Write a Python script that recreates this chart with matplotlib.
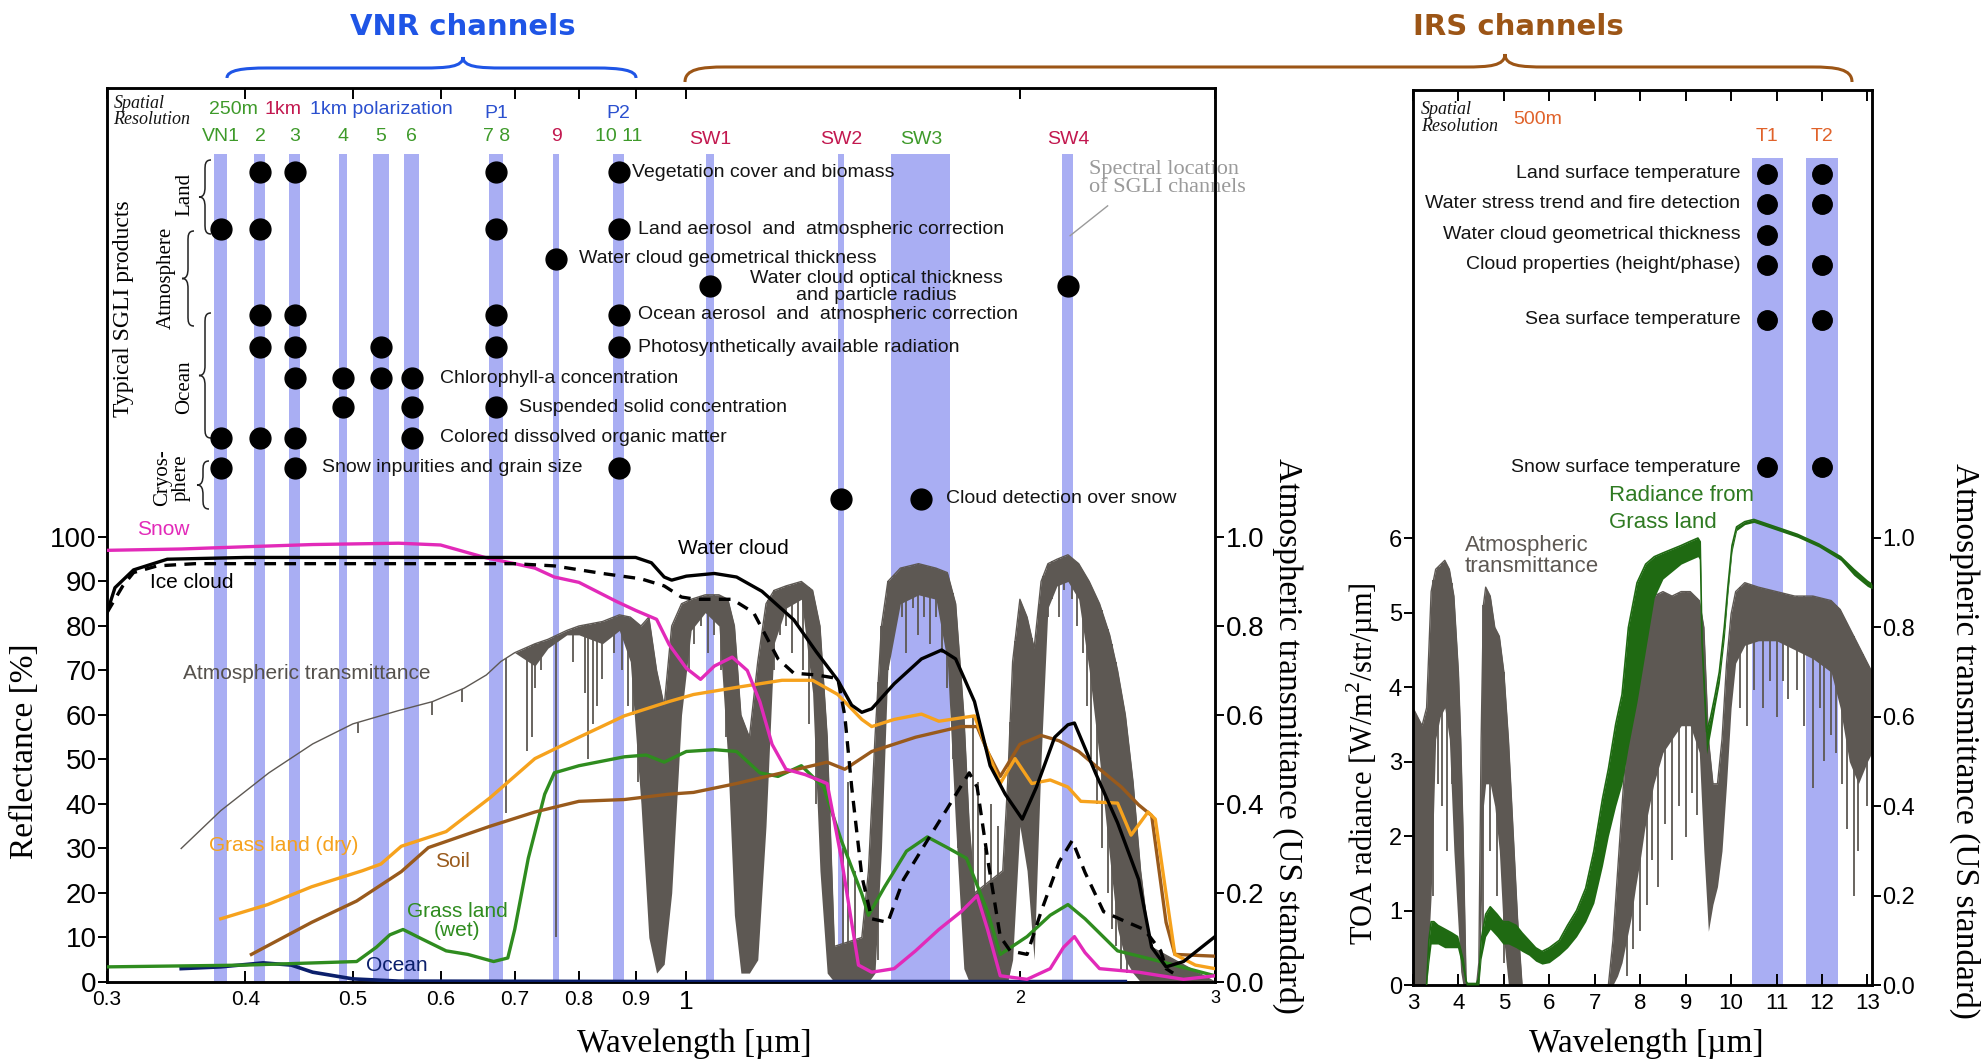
import numpy as np
import matplotlib
matplotlib.use("Agg")
import matplotlib.pyplot as plt
from matplotlib.path import Path
from matplotlib.patches import PathPatch

# ------------------------------------------------------------------ data
# VNR / SWI channels: centre wavelength [um] and drawn band width [um]
vnr_chan_names = ["VN1", "VN2", "VN3", "VN4", "VN5", "VN6", "VN8", "VN9", "VN11",
                  "SW1", "SW2", "SW3", "SW4"]
vnr_chan_center = [0.380, 0.412, 0.443, 0.490, 0.530, 0.565, 0.6735, 0.763, 0.8685,
                   1.050, 1.380, 1.630, 2.210]
vnr_chan_width = [0.010, 0.010, 0.010, 0.009, 0.018, 0.018, 0.020, 0.009, 0.020,
                  0.018, 0.018, 0.200, 0.050]

vnr_top_labels = ["VN1", "2", "3", "4", "5", "6", "7 8", "9", "10 11"]
vnr_top_label_wl = [0.380, 0.413, 0.443, 0.490, 0.530, 0.565, 0.6735, 0.763, 0.8685]
vnr_top_label_col = ["g", "g", "g", "g", "g", "g", "g", "r", "g"]
swi_labels = ["SW1", "SW2", "SW3", "SW4"]
swi_label_wl = [1.050, 1.380, 1.630, 2.210]
swi_label_col = ["r", "r", "g", "r"]
pol_labels = ["P1", "P2"]
pol_label_wl = [0.6735, 0.8685]

vnr_products = ["Vegetation cover and biomass",
                "Land aerosol  and  atmospheric correction",
                "Water cloud geometrical thickness",
                "Water cloud optical thickness\nand particle radius",
                "Ocean aerosol  and  atmospheric correction",
                "Photosynthetically available radiation",
                "Chlorophyll-a concentration",
                "Suspended solid concentration",
                "Colored dissolved organic matter",
                "Snow inpurities and grain size",
                "Cloud detection over snow"]
vnr_product_row = [181.9, 169.1, 162.5, 156.4, 149.9, 142.6, 135.7, 129.1, 122.3, 115.5, 108.6]
vnr_product_text_wl = [0.893, 0.905, 0.800, 1.485, 0.905, 0.905, 0.599, 0.706, 0.599, 0.469, 1.716]
vnr_product_channels = [["VN2", "VN3", "VN8", "VN11"],
                        ["VN1", "VN2", "VN8", "VN11"],
                        ["VN9"],
                        ["SW1", "SW4"],
                        ["VN2", "VN3", "VN8", "VN11"],
                        ["VN2", "VN3", "VN5", "VN8", "VN11"],
                        ["VN3", "VN4", "VN5", "VN6"],
                        ["VN4", "VN6", "VN8"],
                        ["VN1", "VN2", "VN3", "VN6"],
                        ["VN1", "VN3", "VN11"],
                        ["SW2", "SW3"]]

# TIR channels
irs_chan_names = ["T1", "T2"]
irs_chan_center = [10.8, 12.0]
irs_chan_width = [0.7, 0.7]
irs_products = ["Land surface temperature",
                "Water stress trend and fire detection",
                "Water cloud geometrical thickness",
                "Cloud properties (height/phase)",
                "Sea surface temperature",
                "Snow surface temperature"]
irs_product_row = [10.89, 10.49, 10.07, 9.67, 8.93, 6.95]
irs_product_channels = [["T1", "T2"], ["T1", "T2"], ["T1"], ["T1", "T2"], ["T1", "T2"], ["T1", "T2"]]

# Reflectance spectra [%]
snow_wl = [0.30, 0.35, 0.40, 0.46, 0.55, 0.60, 0.66, 0.70, 0.73, 0.76, 0.80, 0.865, 0.90, 0.94,
           0.965, 1.00, 1.03, 1.06, 1.10, 1.135, 1.165, 1.195, 1.23, 1.28, 1.34, 1.38, 1.43, 1.47,
           1.54, 1.61, 1.69, 1.77, 1.83, 1.87, 1.92, 2.03, 2.13, 2.19, 2.24, 2.29, 2.36, 2.56, 2.81, 3.0]
snow_r = [97, 97.3, 97.8, 98.3, 98.6, 98.2, 95.3, 94, 93, 91, 89.8, 85.5, 83.5, 81.5,
          75.8, 70.5, 68, 71, 73, 70, 63, 53.4, 47.8, 46.6, 44.6, 27.8, 3.8, 2.2,
          3, 7, 11.8, 15.8, 19.4, 11.8, 1.4, 0.6, 3, 7.8, 10.2, 6.6, 3, 2.2, 0.6, 1.4]

ice_wl = [0.30, 0.31, 0.317, 0.333, 0.36, 0.50, 0.70, 0.76, 0.84, 0.91, 0.955, 0.99, 1.02, 1.10,
          1.15, 1.21, 1.25, 1.31, 1.37, 1.39, 1.41, 1.44, 1.47, 1.52, 1.57, 1.65, 1.72, 1.80,
          1.83, 1.87, 1.92, 1.96, 2.03, 2.09, 2.17, 2.23, 2.29, 2.38, 2.48, 2.59, 2.68, 2.71, 2.75]
ice_r = [83, 89, 92, 93.5, 94, 94, 94, 93.5, 91.8, 90.6, 89, 86.5, 86, 86,
         83, 72.6, 69.4, 69, 68.2, 59.8, 43.8, 23.8, 14.2, 13.4, 23, 31.8, 39, 47,
         43.8, 27.8, 10.2, 7, 6.2, 15.8, 27, 31.8, 24.6, 15.8, 13.8, 11.8, 7, 3, 2]

wcloud_wl = [0.30, 0.305, 0.317, 0.34, 0.40, 0.60, 0.80, 0.90, 0.93, 0.955, 0.97, 1.00, 1.06,
             1.11, 1.17, 1.25, 1.31, 1.37, 1.41, 1.44, 1.47, 1.54, 1.63, 1.70, 1.75, 1.82, 1.88,
             1.94, 2.01, 2.07, 2.15, 2.21, 2.24, 2.34, 2.45, 2.56, 2.63, 2.71, 2.81, 3.0]
wcloud_r = [83, 88.6, 92.6, 95, 95.4, 95.4, 95.4, 95.4, 94.2, 91, 90.3, 91.2, 91.8,
            91, 87.8, 81.4, 74.2, 67.8, 62.2, 60.6, 61.4, 67, 72.6, 74.6, 72.6, 63, 48.6,
            42.2, 36.6, 43.8, 55, 57.8, 58.2, 47, 35.8, 23, 7.8, 3.4, 4.6, 10.2]

gdry_wl = [0.38, 0.419, 0.459, 0.51, 0.53, 0.553, 0.607, 0.665, 0.73, 0.80, 0.879, 0.964, 1.015,
           1.11, 1.22, 1.30, 1.37, 1.44, 1.47, 1.54, 1.63, 1.69, 1.82, 1.87, 1.92, 1.98, 2.05,
           2.13, 2.21, 2.27, 2.45, 2.52, 2.61, 2.65, 2.71, 2.76, 2.88, 3.0]
gdry_r = [14.2, 17.4, 21.4, 25.0, 26.5, 30.5, 33.8, 41.4, 50.2, 55, 59.8, 63, 64.6,
          66.2, 67.8, 67.8, 64.6, 59, 57.4, 59, 60.2, 58.6, 59.8, 51.8, 44.6, 50.2, 44.6,
          45.4, 43.8, 40.6, 40.2, 33, 38.2, 36.6, 19.8, 6.2, 3.8, 3]

soil_wl = [0.405, 0.459, 0.504, 0.553, 0.585, 0.665, 0.73, 0.80, 0.879, 0.964, 1.015, 1.11, 1.22,
           1.34, 1.39, 1.47, 1.61, 1.77, 1.83, 1.87, 1.92, 2.0, 2.09, 2.17, 2.26, 2.34, 2.47,
           2.56, 2.63, 2.71, 2.76, 3.0]
soil_r = [6.2, 13.4, 18.2, 24.8, 30.2, 35, 38.2, 40.6, 41, 42.2, 42.6, 44.6, 47,
          49.4, 47.8, 51.8, 55, 57.4, 57.4, 51.8, 46.2, 53.4, 55.4, 54.2, 51.8, 48.6, 43.8,
          39.8, 37.4, 13.4, 6.2, 5.8]

gwet_wl = [0.30, 0.40, 0.504, 0.525, 0.54, 0.555, 0.578, 0.607, 0.635, 0.67, 0.69, 0.70, 0.72,
           0.745, 0.76, 0.80, 0.879, 0.92, 0.955, 1.0, 1.06, 1.11, 1.165, 1.21, 1.27, 1.33, 1.38,
           1.44, 1.46, 1.51, 1.58, 1.65, 1.72, 1.79, 1.87, 1.92, 2.03, 2.13, 2.21, 2.29, 2.45,
           2.68, 3.0]
gwet_r = [3.4, 3.8, 4.6, 7.8, 10.6, 11.8, 9.6, 7, 6.2, 4.6, 5.4, 11.8, 27.8,
          42.2, 47, 48.6, 50.6, 51, 49.4, 51.8, 52.2, 51.8, 47, 46.2, 48.6, 43.8, 31.8,
          19.8, 15, 21.4, 29.4, 32.6, 30.2, 27.8, 15.8, 6.2, 10.2, 15, 17.4, 14.2, 7,
          4.6, 1.4]

ocean_wl = [0.35, 0.38, 0.415, 0.44, 0.46, 0.50, 0.55, 1.0, 2.49]
ocean_r = [3.0, 3.4, 4.3, 3.8, 2.2, 0.7, 0.2, 0.1, 0.1]

# Atmospheric transmittance (0-1), VNR/SWI range: upper and lower envelope
atm_wl = [0.35, 0.38, 0.42, 0.46, 0.50, 0.55, 0.59, 0.63, 0.66, 0.68, 0.70, 0.73, 0.75, 0.78,
          0.80, 0.84, 0.87, 0.89, 0.91, 0.925, 0.94, 0.955, 0.97, 0.99, 1.01, 1.04, 1.07, 1.09,
          1.105, 1.12, 1.14, 1.16, 1.18, 1.20, 1.23, 1.27, 1.30, 1.32, 1.34, 1.36, 1.44, 1.46,
          1.48, 1.50, 1.52, 1.56, 1.62, 1.68, 1.72, 1.75, 1.78, 1.80, 1.82, 1.93, 1.95, 1.97,
          2.0, 2.03, 2.06, 2.09, 2.12, 2.16, 2.21, 2.26, 2.31, 2.36, 2.41, 2.45, 2.49, 2.53,
          2.57, 2.62, 3.0]
atm_hi = [0.30, 0.385, 0.47, 0.535, 0.58, 0.61, 0.63, 0.66, 0.69, 0.72, 0.74, 0.76, 0.77, 0.79,
          0.80, 0.81, 0.825, 0.82, 0.80, 0.82, 0.70, 0.62, 0.80, 0.85, 0.86, 0.87, 0.87, 0.86,
          0.80, 0.60, 0.55, 0.72, 0.85, 0.88, 0.89, 0.90, 0.88, 0.80, 0.55, 0.08, 0.10, 0.25,
          0.55, 0.80, 0.90, 0.93, 0.94, 0.93, 0.92, 0.85, 0.60, 0.35, 0.20, 0.25, 0.45, 0.72,
          0.86, 0.82, 0.75, 0.90, 0.94, 0.95, 0.96, 0.94, 0.90, 0.85, 0.78, 0.70, 0.60, 0.45,
          0.25, 0.08, 0.0]
atm_lo = [0.30, 0.385, 0.47, 0.535, 0.58, 0.61, 0.63, 0.66, 0.69, 0.72, 0.74, 0.71, 0.75, 0.78,
          0.78, 0.76, 0.79, 0.72, 0.40, 0.10, 0.02, 0.04, 0.20, 0.60, 0.79, 0.83, 0.80, 0.50,
          0.15, 0.02, 0.02, 0.05, 0.35, 0.76, 0.84, 0.86, 0.65, 0.25, 0.02, 0.0, 0.0, 0.0,
          0.02, 0.30, 0.70, 0.85, 0.87, 0.86, 0.72, 0.35, 0.03, 0.0, 0.0, 0.0, 0.0, 0.05,
          0.35, 0.25, 0.05, 0.50, 0.84, 0.89, 0.90, 0.86, 0.70, 0.50, 0.28, 0.12, 0.05, 0.02,
          0.0, 0.0, 0.0]
# individual absorption lines (wavelength, bottom of the line)
atm_dip_wl = [0.505, 0.59, 0.628, 0.687, 0.718, 0.725, 0.73, 0.74, 0.762, 0.79, 0.81, 0.815,
              0.823, 0.83, 0.84, 0.86, 0.875, 0.885, 0.895, 0.905,
              1.005, 1.015, 1.03, 1.045, 1.06, 1.075, 1.085,
              1.17, 1.185, 1.20, 1.215, 1.23, 1.245, 1.26, 1.275, 1.29, 1.31,
              1.49, 1.50, 1.52, 1.54, 1.565, 1.58, 1.60, 1.62, 1.64, 1.66, 1.68, 1.70, 1.72,
              1.74, 1.76, 1.96, 1.98,
              2.05, 2.08, 2.10, 2.12, 2.14, 2.17, 2.19, 2.23, 2.25, 2.28, 2.30, 2.32, 2.35,
              2.37, 2.40, 2.42, 2.44, 2.47, 2.50]
atm_dip_lo = [0.56, 0.60, 0.63, 0.38, 0.52, 0.55, 0.66, 0.70, 0.10, 0.72, 0.65, 0.50,
              0.58, 0.62, 0.68, 0.74, 0.70, 0.62, 0.60, 0.45,
              0.70, 0.76, 0.80, 0.74, 0.78, 0.70, 0.55,
              0.30, 0.55, 0.70, 0.78, 0.80, 0.74, 0.80, 0.70, 0.58, 0.40,
              0.05, 0.30, 0.70, 0.80, 0.82, 0.74, 0.84, 0.78, 0.82, 0.76, 0.82, 0.74, 0.66,
              0.50, 0.30, 0.05, 0.25,
              0.15, 0.40, 0.70, 0.82, 0.86, 0.82, 0.88, 0.86, 0.80, 0.74, 0.62, 0.50, 0.40,
              0.30, 0.20, 0.12, 0.08, 0.03, 0.02]
atm_spike_wl = [1.385, 1.40, 1.42, 1.815, 1.835, 1.86, 1.885, 1.91]
atm_spike_hi = [0.30, 0.45, 0.25, 0.60, 0.45, 0.30, 0.40, 0.35]

# TIR range: transmittance envelope (0-1)
tir_wl = [3.0, 3.1, 3.2, 3.3, 3.4, 3.5, 3.6, 3.7, 3.8, 3.9, 4.0, 4.05, 4.1, 4.17, 4.2, 4.4,
          4.45, 4.5, 4.55, 4.6, 4.7, 4.8, 4.9, 5.0, 5.1, 5.2, 5.3, 5.4, 7.3, 7.4, 7.5, 7.6,
          7.7, 7.8, 7.9, 8.0, 8.1, 8.3, 8.5, 8.7, 8.9, 9.1, 9.3, 9.4, 9.5, 9.6, 9.7, 9.8,
          9.9, 10.0, 10.1, 10.3, 10.6, 11.0, 11.4, 11.8, 12.2, 12.4, 12.6, 12.8, 13.0, 13.1]
tir_hi = [0.62, 0.60, 0.58, 0.62, 0.88, 0.93, 0.94, 0.95, 0.93, 0.87, 0.70, 0.55, 0.35, 0.0,
          0.0, 0.0, 0.05, 0.55, 0.85, 0.89, 0.87, 0.80, 0.78, 0.70, 0.55, 0.35, 0.15, 0.0,
          0.0, 0.10, 0.25, 0.40, 0.55, 0.65, 0.80, 0.90, 0.88, 0.87, 0.88, 0.87, 0.88, 0.88,
          0.86, 0.80, 0.55, 0.45, 0.45, 0.55, 0.72, 0.83, 0.88, 0.90, 0.89, 0.88, 0.87, 0.87,
          0.86, 0.84, 0.80, 0.76, 0.72, 0.70]
tir_lo = [0.0, 0.0, 0.0, 0.0, 0.20, 0.55, 0.60, 0.62, 0.55, 0.30, 0.12, 0.03, 0.0, 0.0,
          0.0, 0.0, 0.0, 0.15, 0.40, 0.45, 0.45, 0.40, 0.30, 0.10, 0.0, 0.0, 0.0, 0.0,
          0.0, 0.0, 0.02, 0.05, 0.10, 0.15, 0.22, 0.28, 0.35, 0.45, 0.52, 0.55, 0.58, 0.58,
          0.52, 0.30, 0.12, 0.18, 0.22, 0.30, 0.45, 0.62, 0.72, 0.76, 0.77, 0.77, 0.75, 0.73,
          0.70, 0.62, 0.50, 0.45, 0.50, 0.52]
tir_dip_wl = [3.45, 3.55, 3.65, 3.75, 3.85, 4.55, 4.7, 4.85, 5.0,
              7.7, 7.85, 8.0, 8.15, 8.25, 8.4, 8.55, 8.7, 8.85, 9.0, 9.15, 9.25,
              10.2, 10.35, 10.5, 10.7, 10.85, 11.0, 11.15, 11.25, 11.45, 11.6, 11.8, 11.95,
              12.05, 12.2, 12.3, 12.45, 12.55, 12.7, 12.8, 12.9, 13.0]
tir_dip_lo = [0.20, 0.45, 0.40, 0.30, 0.45, 0.10, 0.30, 0.20, 0.05,
              0.02, 0.08, 0.12, 0.18, 0.28, 0.22, 0.36, 0.28, 0.40, 0.33, 0.43, 0.38,
              0.62, 0.58, 0.66, 0.62, 0.68, 0.60, 0.68, 0.64, 0.66, 0.58, 0.44, 0.62,
              0.50, 0.56, 0.52, 0.45, 0.35, 0.20, 0.30, 0.48, 0.40]

# TOA radiance from grass land [W/m2/str/um]: envelope
rad_wl = [3.3, 3.35, 3.4, 3.46, 3.55, 3.7, 3.85, 3.98, 4.1, 4.17, 4.2, 4.4, 4.45, 4.5, 4.6, 4.7,
          4.85, 4.98, 5.1, 5.27, 5.4, 5.55, 5.7, 5.84, 6.0, 6.22, 6.4, 6.6, 6.8, 6.98, 7.17, 7.3,
          7.46, 7.6, 7.74, 7.93, 8.12, 8.31, 8.5, 8.7, 8.9, 9.08, 9.27, 9.32, 9.36, 9.46, 9.55,
          9.65, 9.74, 9.85, 9.93, 10.02, 10.12, 10.3, 10.5, 10.98, 11.46, 11.93, 12.41, 12.7,
          13.0, 13.1]
rad_hi = [0.0, 0.6, 0.85, 0.85, 0.80, 0.75, 0.70, 0.65, 0.35, 0.05, 0.02, 0.02, 0.10, 0.60,
          0.95, 1.05, 0.95, 0.85, 0.85, 0.80, 0.70, 0.60, 0.50, 0.45, 0.50, 0.60, 0.80, 1.00,
          1.30, 1.80, 2.50, 2.90, 3.50, 3.90, 4.80, 5.40, 5.65, 5.75, 5.80, 5.85, 5.90, 5.95,
          6.00, 5.95, 4.6, 3.4, 3.6, 3.9, 4.2, 4.8, 5.35, 5.9, 6.15, 6.22, 6.25, 6.15, 6.05,
          5.92, 5.75, 5.58, 5.42, 5.38]
rad_lo = [0.0, 0.3, 0.55, 0.55, 0.55, 0.5, 0.5, 0.5, 0.2, 0.0, 0.0, 0.0, 0.0, 0.35,
          0.65, 0.75, 0.65, 0.55, 0.55, 0.50, 0.45, 0.40, 0.32, 0.28, 0.30, 0.40, 0.50, 0.65,
          0.85, 1.10, 1.60, 2.00, 2.40, 2.70, 3.20, 3.80, 4.50, 5.20, 5.45, 5.55, 5.65, 5.70,
          5.75, 5.70, 4.5, 3.1, 3.4, 3.75, 4.05, 4.65, 5.25, 5.82, 6.10, 6.18, 6.21, 6.11, 6.01,
          5.88, 5.70, 5.50, 5.35, 5.32]

vis_xticks = [0.3, 0.4, 0.5, 0.6, 0.7, 0.8, 0.9, 1, 2, 3]
vis_xticklabels = ["0.3", "0.4", "0.5", "0.6", "0.7", "0.8", "0.9", "1", "2", "3"]
tir_xticks = [3, 4, 5, 6, 7, 8, 9, 10, 11, 12, 13]

# ------------------------------------------------------------------ style
W, H = 1982, 1061
SANS = ["Liberation Sans", "DejaVu Sans"]
SERIF = ["Liberation Serif", "DejaVu Serif"]
plt.rcParams["font.family"] = SANS
plt.rcParams["mathtext.fontset"] = "custom"
plt.rcParams["mathtext.rm"] = "Liberation Serif"

BAND = "#a9aef3"
GREEN_LBL = "#3e9a2a"
RED_LBL = "#c2184f"
BLUE_LBL = "#2b50cf"
ORANGE_LBL = "#e0622a"
ATM = "#5d5853"
TXT = "#141414"
col_map = {"g": GREEN_LBL, "r": RED_LBL}

fig = plt.figure(figsize=(W / 100, H / 100), dpi=100)
fig.patch.set_facecolor("white")


def fx(x):
    return x / W


def fy(y):
    return 1 - y / H


# ------------------------------------------------------------------ left panel
axL2 = fig.add_axes([fx(107), fy(982), (1215 - 107) / W, (982 - 87.5) / H])
axL = axL2.twinx()
axL.yaxis.tick_left()
axL2.yaxis.tick_right()
axL.set_zorder(axL2.get_zorder() + 1)
axL.patch.set_visible(False)

axL2.set_xscale("log")
axL2.set_xlim(0.3, 3)
axL2.set_ylim(0, 2.01)
axL.set_ylim(0, 201)

# channel bands
for c, w in zip(vnr_chan_center, vnr_chan_width):
    axL2.axvspan(c - w / 2, c + w / 2, ymin=0, ymax=186 / 201, color=BAND, lw=0, zorder=1)

# atmospheric transmittance
axL2.fill_between(atm_wl, atm_lo, atm_hi, color=ATM, lw=0, zorder=2)
axL2.plot(atm_wl, atm_hi, color=ATM, lw=1.0, zorder=2)
dip_top = np.interp(atm_dip_wl, atm_wl, atm_hi)
axL2.vlines(atm_dip_wl, atm_dip_lo, dip_top, color=ATM, lw=1.3, zorder=2)
axL2.vlines(atm_spike_wl, 0, atm_spike_hi, color=ATM, lw=1.3, zorder=2)

# reflectance curves
axL.plot(ocean_wl, ocean_r, color="#0b1f6b", lw=2.6, zorder=3)
axL.plot(gwet_wl, gwet_r, color="#2f8c1f", lw=2.4, zorder=3)
axL.plot(soil_wl, soil_r, color="#995a1c", lw=2.4, zorder=3)
axL.plot(gdry_wl, gdry_r, color="#f6a21d", lw=2.4, zorder=3)
axL.plot(snow_wl, snow_r, color="#e22ab9", lw=2.4, zorder=3)
axL.plot(ice_wl, ice_r, color="black", lw=2.4, ls=(0, (3.5, 2.5)), zorder=3)
axL.plot(wcloud_wl, wcloud_r, color="black", lw=2.4, zorder=3)

# curve labels
lab_kw = dict(fontsize=15, va="center", zorder=4)
axL.text(0.319, 101.7, "Snow", color="#e22ab9", **lab_kw)
axL.text(0.328, 89.7, "Ice cloud", color="black", **lab_kw)
axL.text(0.983, 97.3, "Water cloud", color="black", **lab_kw)
axL.text(0.351, 69.4, "Atmospheric transmittance", color="#55514c", **lab_kw)
axL.text(0.371, 30.6, "Grass land (dry)", color="#f6a21d", **lab_kw)
axL.text(0.593, 27.0, "Soil", color="#995a1c", **lab_kw)
axL.text(0.621, 13.6, "Grass land\n(wet)", color="#2f8c1f", ha="center",
         linespacing=1.0, fontsize=15, va="center", zorder=4)
axL.text(0.514, 3.6, "Ocean", color="#0b1f6b", **lab_kw)

# product dots and texts
chan_pos = dict(zip(vnr_chan_names, vnr_chan_center))
for name, row, tx, chans in zip(vnr_products, vnr_product_row, vnr_product_text_wl,
                                vnr_product_channels):
    xs = [chan_pos[c] for c in chans]
    axL.plot(xs, [row] * len(xs), "o", color="black", ms=15, zorder=5)
    if "\n" in name:
        l1, l2 = name.split("\n")
        axL.text(tx, row + 1.6, l1, ha="center", va="center", fontsize=14, color=TXT, zorder=6)
        axL.text(tx, row - 2.1, l2, ha="center", va="center", fontsize=14, color=TXT, zorder=6)
    else:
        axL.text(tx, row, name, ha="left", va="center", fontsize=14, color=TXT, zorder=6)

# channel labels
for lbl, wl, c in zip(vnr_top_labels, vnr_top_label_wl, vnr_top_label_col):
    axL.text(wl, 190, lbl, ha="center", va="center", fontsize=14, color=col_map[c])
for lbl, wl, c in zip(swi_labels, swi_label_wl, swi_label_col):
    axL.text(wl, 189.4, lbl, ha="center", va="center", fontsize=14, color=col_map[c])
for lbl, wl in zip(pol_labels, pol_label_wl):
    axL.text(wl, 195.2, lbl, ha="center", va="center", fontsize=14, color=BLUE_LBL)
axL.text(0.371, 196.0, "250m", ha="left", va="center", fontsize=14, color=GREEN_LBL)
axL.text(0.416, 196.0, "1km", ha="left", va="center", fontsize=14, color=RED_LBL)
axL.text(0.4576, 196.0, "1km polarization", ha="left", va="center", fontsize=14, color=BLUE_LBL)
axL.text(0.304, 195.6, "Spatial\nResolution", ha="left", va="center", fontsize=13,
         family=SERIF, style="italic", color=TXT, linespacing=0.95)

axL.text(2.31, 180.5, "Spectral location\nof SGLI channels", ha="left", va="center",
         fontsize=16, family=SERIF, color="#9a9a9a", linespacing=0.95, zorder=1,
         clip_on=False)
axL.plot([2.40, 2.22], [174.4, 167.7], color="#9a9a9a", lw=1.0)

# ticks
axL.set_yticks(range(0, 101, 10))
axL.tick_params(axis="y", direction="out", length=6.5, width=1.4, labelsize=20, pad=1)
axL2.set_yticks([0, 0.2, 0.4, 0.6, 0.8, 1.0])
axL2.set_yticklabels(["0.0", "0.2", "0.4", "0.6", "0.8", "1.0"])
axL2.tick_params(axis="y", direction="out", length=6.5, width=1.4, labelsize=20, pad=1)
axL2.set_xticks(vis_xticks)
axL2.set_xticklabels(vis_xticklabels)
axL2.xaxis.set_minor_locator(matplotlib.ticker.NullLocator())
axL2.tick_params(axis="x", which="major", direction="in", length=8, width=1.4,
                 labelsize=15, pad=6, top=True)
for t in axL2.get_xticklabels():
    if t.get_text() == "1":
        t.set_fontsize(19)
    elif t.get_text() in ("2", "3"):
        t.set_fontsize(13)
for ax in (axL, axL2):
    for s in ax.spines.values():
        s.set_linewidth(1.8)

# ------------------------------------------------------------------ right panel
axR2 = fig.add_axes([fx(1412.5), fy(985), (1872 - 1412.5) / W, (985 - 89.6) / H])
axR = axR2.twinx()
axR.yaxis.tick_left()
axR2.yaxis.tick_right()
axR.set_zorder(axR2.get_zorder() + 1)
axR.patch.set_visible(False)
axR2.set_xlim(2.99, 13.1)
axR2.set_ylim(0, 2.003)
axR.set_ylim(0, 12.02)

for c, w in zip(irs_chan_center, irs_chan_width):
    axR2.axvspan(c - w / 2, c + w / 2, ymin=0, ymax=11.1 / 12.02, color=BAND, lw=0, zorder=1)

axR2.fill_between(tir_wl, tir_lo, tir_hi, color=ATM, lw=0, zorder=2)
axR2.plot(tir_wl, tir_hi, color=ATM, lw=1.0, zorder=2)
tdip_top = np.interp(tir_dip_wl, tir_wl, tir_hi)
axR2.vlines(tir_dip_wl, tir_dip_lo, tdip_top, color=ATM, lw=1.3, zorder=2)

axR.fill_between(rad_wl, rad_lo, rad_hi, color="#1f6a12", lw=0, zorder=3)
axR.plot(rad_wl, rad_hi, color="#1f6a12", lw=1.2, zorder=3)

tchan_pos = dict(zip(irs_chan_names, irs_chan_center))
for name, row, chans in zip(irs_products, irs_product_row, irs_product_channels):
    xs = [tchan_pos[c] for c in chans]
    axR.plot(xs, [row] * len(xs), "o", color="black", ms=14, zorder=5)
    axR.text(10.2, row, name, ha="right", va="center", fontsize=14, color=TXT, zorder=6)
for lbl, c in zip(irs_chan_names, irs_chan_center):
    axR.text(c, 11.39, lbl, ha="center", va="center", fontsize=14, color=ORANGE_LBL)
axR.text(3.17, 11.64, "Spatial\nResolution", ha="left", va="center", fontsize=13,
         family=SERIF, style="italic", color=TXT, linespacing=0.95)
axR.text(5.2, 11.62, "500m", ha="left", va="center", fontsize=14, color=ORANGE_LBL)
axR.text(7.32, 6.39, "Radiance from\nGrass land", ha="left", va="center", fontsize=16,
         color="#2f7a22", linespacing=1.35, zorder=6)
axR.text(4.14, 5.76, "Atmospheric\ntransmittance", ha="left", va="center", fontsize=16,
         color="#5d5853", linespacing=1.0, zorder=6)

axR.set_yticks(range(0, 7))
axR.tick_params(axis="y", direction="out", length=6.5, width=1.4, labelsize=17, pad=1)
axR2.set_yticks([0, 0.2, 0.4, 0.6, 0.8, 1.0])
axR2.set_yticklabels(["0.0", "0.2", "0.4", "0.6", "0.8", "1.0"])
axR2.tick_params(axis="y", direction="out", length=6.5, width=1.4, labelsize=17, pad=1)
axR2.set_xticks(tir_xticks)
axR2.tick_params(axis="x", direction="in", length=8, width=1.4, labelsize=16, pad=6, top=True)
for ax in (axR, axR2):
    for s in ax.spines.values():
        s.set_linewidth(1.8)

# ------------------------------------------------------------------ axis labels
lab = dict(family=SERIF, fontsize=24, color="black", ha="center", va="center")
fig.text(fx(25), fy(751), "Reflectance [%]", rotation=90, **lab)
fig.text(fx(694), fy(1044), "Wavelength [µm]", **lab)
fig.text(fx(1288), fy(736), "Atmospheric transmittance (US standard)", rotation=270, **lab)
fig.text(fx(1363), fy(764), "TOA radiance [W/m$^2$/str/µm]", rotation=90,
         family=SERIF, fontsize=22, ha="center", va="center")
fig.text(fx(1646), fy(1044), "Wavelength [µm]", **lab)
fig.text(fx(1965), fy(741), "Atmospheric transmittance (US standard)", rotation=270, **lab)

# left-hand product group labels
fig.text(fx(124), fy(309), "Typical SGLI products", rotation=90, family=SERIF,
         fontsize=17, ha="center", va="center")
grp = dict(rotation=90, family=SERIF, fontsize=15, ha="center", va="center")
fig.text(fx(185), fy(194), "Land", **grp)
fig.text(fx(166), fy(278), "Atmosphere", **grp)
fig.text(fx(185), fy(387), "Ocean", **grp)
fig.text(fx(172), fy(478), "Cryos-\nphere", linespacing=0.95, **grp)

C4, MT, LT = Path.CURVE4, Path.MOVETO, Path.LINETO


def hbrace(x0, x1, xt, yl, ye, yt, color, lw=2.2, r=40):
    pts = [(x0, ye), (x0, yl + 2), (x0 + r * 0.4, yl), (x0 + r, yl),
           (xt - r, yl),
           (xt - r * 0.4, yl), (xt, yl - 1), (xt, yt),
           (xt, yl - 1), (xt + r * 0.4, yl), (xt + r, yl),
           (x1 - r, yl),
           (x1 - r * 0.4, yl), (x1, yl + 2), (x1, ye)]
    codes = [MT, C4, C4, C4, LT, C4, C4, C4, C4, C4, C4, LT, C4, C4, C4]
    p = Path([(fx(a), fy(b)) for a, b in pts], codes)
    fig.add_artist(PathPatch(p, fill=False, edgecolor=color, lw=lw, transform=fig.transFigure))


def vbrace(x, y0, y1, d=6, r=10, lw=1.1):
    ym = (y0 + y1) / 2
    pts = [(x + d, y0), (x, y0), (x, y0 + r * 0.5), (x, y0 + r),
           (x, ym - r),
           (x, ym - r * 0.4), (x - d * 0.2, ym), (x - d, ym),
           (x - d * 0.2, ym), (x, ym + r * 0.4), (x, ym + r),
           (x, y1 - r),
           (x, y1 - r * 0.5), (x, y1), (x + d, y1)]
    codes = [MT, C4, C4, C4, LT, C4, C4, C4, C4, C4, C4, LT, C4, C4, C4]
    p = Path([(fx(a), fy(b)) for a, b in pts], codes)
    fig.add_artist(PathPatch(p, fill=False, edgecolor="#222222", lw=lw, transform=fig.transFigure))


vbrace(205, 160, 234)
vbrace(188, 231, 326)
vbrace(205, 313, 438)
vbrace(203, 461, 509)

VNR_COL = "#1f55e6"
IRS_COL = "#9c5516"
hbrace(227, 636, 463, 68, 78, 57, VNR_COL)
hbrace(685, 1852, 1505, 67, 82, 54, IRS_COL)
fig.text(fx(463), fy(27), "VNR channels", color=VNR_COL, fontsize=21, weight="bold",
         family=["DejaVu Sans"], ha="center", va="center")
fig.text(fx(1518), fy(27), "IRS channels", color=IRS_COL, fontsize=21, weight="bold",
         family=["DejaVu Sans"], ha="center", va="center")

fig.savefig("out.png", dpi=100, facecolor="white")
